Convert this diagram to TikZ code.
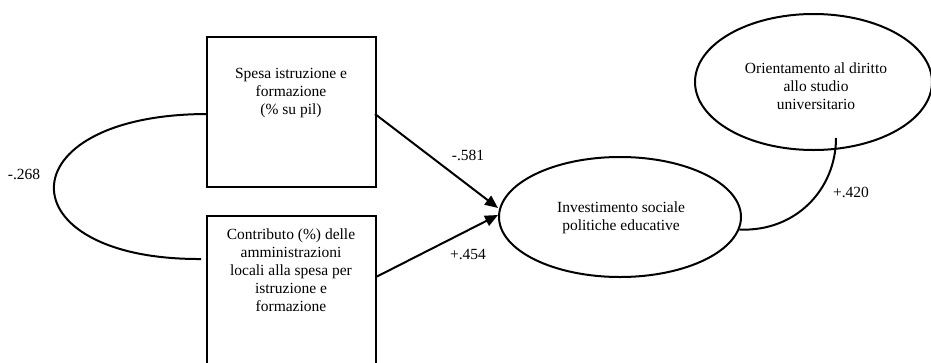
\documentclass[tikz,border=0pt]{standalone}
\usepackage{fontspec}
\setmainfont{Liberation Serif}
\usetikzlibrary{shapes.geometric,arrows.meta,calc}
\begin{document}
\begin{tikzpicture}[x=1pt,y=-1pt,
  conn/.style={line width=2pt},
  arr/.style={conn,-{Triangle[length=13pt,width=11pt]}},
  boxnode/.style={draw,line width=2pt,rectangle,inner sep=0pt},
  ellnode/.style={draw,line width=2pt,ellipse,inner sep=0pt},
  txt/.style={align=center,font=\fontsize{15.5}{18}\selectfont,inner sep=0pt},
  lbl/.style={font=\fontsize{15.5}{18}\selectfont,inner sep=0pt}]
\useasboundingbox (0,0) rectangle (931,362);
% boxes
\node[boxnode,minimum width=169pt,minimum height=150pt] (b1) at (291.5,112) {};
\node[boxnode,minimum width=169pt,minimum height=180pt] (b2) at (291.5,306) {};
\node[txt] (t1) at (291,93) {Spesa istruzione e\\formazione\\(\% su pil)};
\node[txt] (t2) at (291,270) {Contributo (\%) delle\\amministrazioni\\locali alla spesa per\\istruzione e\\formazione};
% ellipses
\node[ellnode,minimum width=242pt,minimum height=120pt] (inv) at (620,217) {};
\node[ellnode,minimum width=237pt,minimum height=136pt] (ori) at (813.5,82) {};
\node[txt] (t3) at (621,218) {Investimento sociale\\politiche educative};
\node[txt] (t4) at (816,86) {Orientamento al diritto\\allo studio\\universitario};
% connectors
\draw[arr] ($(b1.north east)+(-2,78)$) -- ([yshift=9pt]inv.west);
\draw[arr] ($(b2.north east)+(-1,62)$) -- ([yshift=2pt]inv.west);
\draw[conn] ($(b1.north west)+(0,78)$) .. controls (4,115) and (4,260) .. ($(b2.north west)+(-5,44)$);
\draw[conn] (inv.-6) .. controls (796,232) and (836,189) .. ($(ori.south)+(22.5,-13)$);
% labels
\node[lbl] (l1) at (24,174) {-.268};
\node[lbl] (l2) at (468,155) {-.581};
\node[lbl] (l3) at (468,255) {+.454};
\node[lbl] (l4) at (851,192) {+.420};
\end{tikzpicture}
\end{document}
